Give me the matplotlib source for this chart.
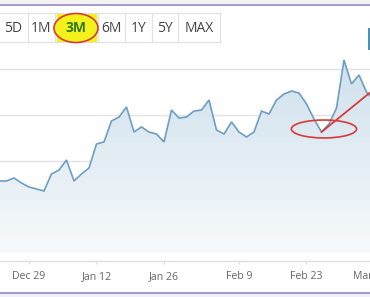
import matplotlib
matplotlib.use('Agg')
import matplotlib.pyplot as plt
import numpy as np
from matplotlib.patches import Rectangle, Ellipse
from matplotlib.lines import Line2D
from matplotlib.colors import LinearSegmentedColormap

# ---------------- data ----------------
dates = ["Dec 22", "Dec 23", "Dec 24", "Dec 26", "Dec 29", "Dec 30", "Dec 31",
         "Jan 2", "Jan 5", "Jan 6", "Jan 7", "Jan 8", "Jan 9", "Jan 12",
         "Jan 13", "Jan 14", "Jan 15", "Jan 16", "Jan 20", "Jan 21", "Jan 22",
         "Jan 23", "Jan 26", "Jan 27", "Jan 28", "Jan 29", "Jan 30", "Feb 2",
         "Feb 3", "Feb 4", "Feb 5", "Feb 6", "Feb 9", "Feb 10", "Feb 11",
         "Feb 12", "Feb 13", "Feb 17", "Feb 18", "Feb 19", "Feb 20", "Feb 23",
         "Feb 24", "Feb 25", "Feb 26", "Feb 27", "Mar 2", "Mar 3", "Mar 4",
         "Mar 5", "Mar 6"]
prices = [47.83, 47.83, 48.15, 47.61, 47.17, 46.96, 46.74, 48.59, 49.02, 50.11,
          47.83, 48.59, 49.24, 51.85, 52.07, 54.35, 54.78, 55.87, 53.15, 53.70,
          53.15, 52.93, 52.07, 55.54, 54.67, 54.78, 55.43, 55.54, 56.63, 53.37,
          52.93, 54.24, 53.15, 52.61, 53.15, 55.43, 55.11, 56.63, 57.28, 57.61,
          57.39, 56.20, 54.57, 53.15, 54.02, 55.76, 60.98, 58.37, 59.35, 57.50,
          56.63]
tick_dates = ["Dec 29", "Jan 12", "Jan 26", "Feb 9", "Feb 23", "Mar 9"]
grid_values = [40, 45, 50, 55, 60]
range_buttons = ["5D", "1M", "3M", "6M", "1Y", "5Y", "MAX"]
selected_range = "3M"

# ---------------- figure ----------------
W, H = 370, 297
fig = plt.figure(figsize=(W / 100, H / 100), dpi=100)
fig.patch.set_facecolor('white')
plt.rcParams['font.family'] = ['Open Sans', 'DejaVu Sans']

def fx(px):
    return px / W

def fy(py):
    return 1 - py / H

# plot area: one trading day = 7.5 px; it runs past the right edge (cropped)
XL, XR = 1 / 7.5, 52.0
px_right = -1 + 7.5 * XR
ax = fig.add_axes([0, fy(253), px_right / W, fy(50) - fy(253)])
ax.set_facecolor('none')

x = np.arange(len(prices))
y = np.array(prices)

ylo = grid_values[0]
yhi = ylo + (253 - 50) / 46 * 5

# gradient fill under the line
poly = ax.fill_between(x, y, ylo, color='none', lw=0)
cmap = LinearSegmentedColormap.from_list('g', ['#f7fafc', '#cddfeb'])
grad = np.linspace(0, 1, 256).reshape(-1, 1)
im = ax.imshow(grad, cmap=cmap, aspect='auto', origin='lower',
               extent=[x[0], x[-1], ylo, yhi], zorder=1)
im.set_clip_path(poly.get_paths()[0], transform=ax.transData)

# grid lines
for g in grid_values:
    ax.axhline(g, color='#e3e3e3', lw=1.0, zorder=0.5)

ax.plot(x, y, color='#6c9fc3', lw=1.2, zorder=3, solid_joinstyle='miter')

ax.set_xlim(XL, XR)
ax.set_ylim(ylo, yhi)

# axes styling
for s in ['left', 'right', 'top']:
    ax.spines[s].set_visible(False)
ax.spines['bottom'].set_position(('outward', 5.8))
ax.spines['bottom'].set_color('#d8dde8')
ax.spines['bottom'].set_linewidth(1.0)
ax.set_yticks([])
tick_pos = [dates.index(d) if d in dates else len(dates) for d in tick_dates]
ax.set_xticks(tick_pos)
ax.set_xticklabels(tick_dates)
ax.tick_params(axis='x', length=2, color='#d8dde8', labelsize=7.6,
               labelcolor='#666666', pad=5)
labels = ax.get_xticklabels()
labels[-1].set_horizontalalignment('right')

# red annotation
trough = int(np.argmin(y[40:46])) + 40
ax.add_patch(Ellipse((trough + 0.33, y[trough] + 0.33), 8.7, 1.95, fill=False,
                     edgecolor='#d9393a', lw=1.2, zorder=5))
ax.plot([trough, trough + 8], [y[trough], y[trough] + 5.3],
        color='#d9393a', lw=1.3, zorder=5, solid_capstyle='round')

# ---------------- range selector buttons ----------------
edges = [-2, 28, 55, 98, 125, 152, 178, 220]
top, bot = 13, 42
fig.add_artist(Line2D([fx(0), fx(220)], [fy(top), fy(top)], color='#e2e2e2', lw=0.9))
fig.add_artist(Line2D([fx(0), fx(220)], [fy(bot), fy(bot)], color='#e2e2e2', lw=0.9))
for e in edges[1:]:
    fig.add_artist(Line2D([fx(e), fx(e)], [fy(top), fy(bot)], color='#e2e2e2', lw=0.9))
for i, lab in enumerate(range_buttons):
    cx = (edges[i] + edges[i + 1]) / 2
    if lab == selected_range:
        cx = 76
        fig.add_artist(Rectangle((fx(57), fy(42)), fx(97) - fx(57), fy(14) - fy(42),
                                 transform=fig.transFigure, facecolor='#f4f21a',
                                 edgecolor='none', zorder=2))
        fig.add_artist(Ellipse((fx(76), fy(28)), fx(44), fy(0) - fy(29),
                               transform=fig.transFigure, facecolor='#f4f21a',
                               edgecolor='#d9393a', lw=1.2, zorder=3))
        fig.text(fx(cx), fy(28), lab, ha='center', va='center', fontsize=10,
                 fontweight='bold', color='#2e7a1f', zorder=4)
    else:
        fig.text(fx(cx), fy(28), lab, ha='center', va='center', fontsize=10,
                 color='#444444', zorder=4)

# ---------------- frame lines ----------------
fig.add_artist(Rectangle((0, fy(4)), 1, fy(0) - fy(4), transform=fig.transFigure,
                         facecolor='#f2f2f2', edgecolor='none'))
fig.add_artist(Line2D([0, 1], [fy(5), fy(5)], color='#8a7fc6', lw=1.1))
fig.add_artist(Rectangle((0, 0), 1, fy(293), transform=fig.transFigure,
                         facecolor='#f1effa', edgecolor='none'))
fig.add_artist(Line2D([0, 1], [fy(293), fy(293)], color='#8a7fc6', lw=1.1))
fig.add_artist(Rectangle((fx(368), fy(50)), fx(2), fy(28) - fy(50),
                         transform=fig.transFigure, facecolor='#4d8fb5',
                         edgecolor='none'))

fig.savefig('out.png', dpi=100)
